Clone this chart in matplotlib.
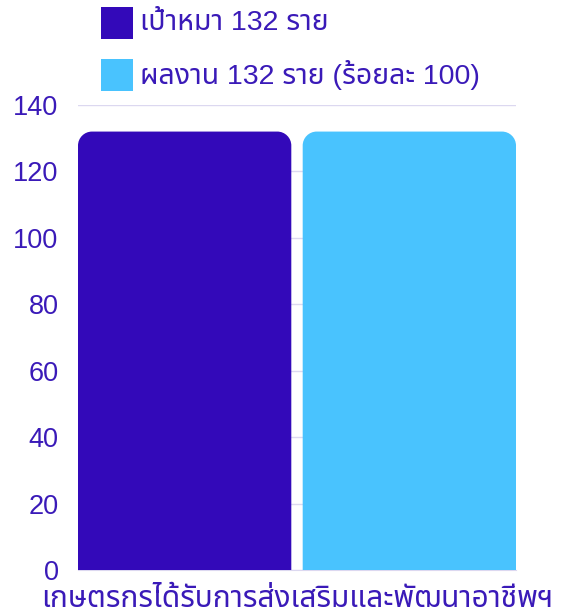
import matplotlib
matplotlib.use("Agg")
import matplotlib.pyplot as plt
from matplotlib import font_manager
from matplotlib.ft2font import FT2Font
from matplotlib.path import Path
from matplotlib.patches import PathPatch

category = "เกษตรกรได้รับการส่งเสริมและพัฒนาอาชีพฯ"
series_names = ["เป้าหมา 132 ราย", "ผลงาน 132 ราย (ร้อยละ 100)"]
series_values = [132, 132]
colors = ["#3309b9", "#49c3fe"]
yticks = [0, 20, 40, 60, 80, 100, 120, 140]

text_color = "#3a1ab8"
grid_color = "#dcd8f0"

# find an installed font that can draw Thai
thai_font = None
preferred = ["Noto Sans Thai", "Noto Sans Thai UI", "Noto Sans Thai Looped", "Loma",
             "Garuda", "Tlwg Typo", "Sarabun", "Noto Sans", "Noto Serif Thai"]
cands = []
for f in font_manager.fontManager.ttflist:
    cands.append((f.name, f.fname))
cands.sort(key=lambda c: preferred.index(c[0]) if c[0] in preferred else 99)
for name, fname in cands:
    try:
        cmap = FT2Font(fname).get_charmap()
    except Exception:
        continue
    if 0x0E01 in cmap and 0x0E49 in cmap:
        thai_font = name
        break

families = ["Liberation Sans", "DejaVu Sans"]
if thai_font:
    families = ["Liberation Sans", thai_font, "DejaVu Sans"]
plt.rcParams["font.family"] = families

fig = plt.figure(figsize=(5.64, 6.14), dpi=100)
ax = fig.add_axes([78 / 564, 44 / 614, 438 / 564, 465 / 614])

width = 0.487
offsets = [-0.2565, 0.2565]
ax.set_xlim(-0.5, 0.5)
ax.set_ylim(0, 140)

# rounded-top bars
rx = 14 / 438
ry = 14 / 465 * 140
k = 0.5523
for off, val, col in zip(offsets, series_values, colors):
    x0, x1 = off - width / 2, off + width / 2
    verts = [(x0, 0), (x0, val - ry),
             (x0, val - ry + k * ry), (x0 + rx - k * rx, val), (x0 + rx, val),
             (x1 - rx, val),
             (x1 - rx + k * rx, val), (x1, val - ry + k * ry), (x1, val - ry),
             (x1, 0), (x0, 0)]
    codes = [Path.MOVETO, Path.LINETO,
             Path.CURVE4, Path.CURVE4, Path.CURVE4,
             Path.LINETO,
             Path.CURVE4, Path.CURVE4, Path.CURVE4,
             Path.LINETO, Path.CLOSEPOLY]
    ax.add_patch(PathPatch(Path(verts, codes), facecolor=col, edgecolor="none", zorder=3))

ax.set_yticks(yticks)
ax.set_yticklabels([str(t) for t in yticks])
ax.tick_params(axis="y", length=0, pad=14, labelsize=19.5, labelcolor=text_color)
ax.set_xticks([0])
ax.set_xticklabels([category])
ax.tick_params(axis="x", length=0, pad=11, labelsize=21.5, labelcolor=text_color)
ax.grid(axis="y", color=grid_color, lw=1, zorder=0)
for s in ["top", "right", "left"]:
    ax.spines[s].set_visible(False)
ax.spines["bottom"].set_color(grid_color)

# legend
for i, (name, col) in enumerate(zip(series_names, colors)):
    yc = 1 - (23 + 52 * i) / 614
    fig.patches.append(plt.Rectangle((101 / 564, yc - 16 / 614), 32 / 564, 32 / 614,
                                     facecolor=col, edgecolor="none",
                                     transform=fig.transFigure))
    fig.text(140 / 564, yc, name, fontsize=20.5, color=text_color, va="center")

fig.savefig("out.png", dpi=100)
